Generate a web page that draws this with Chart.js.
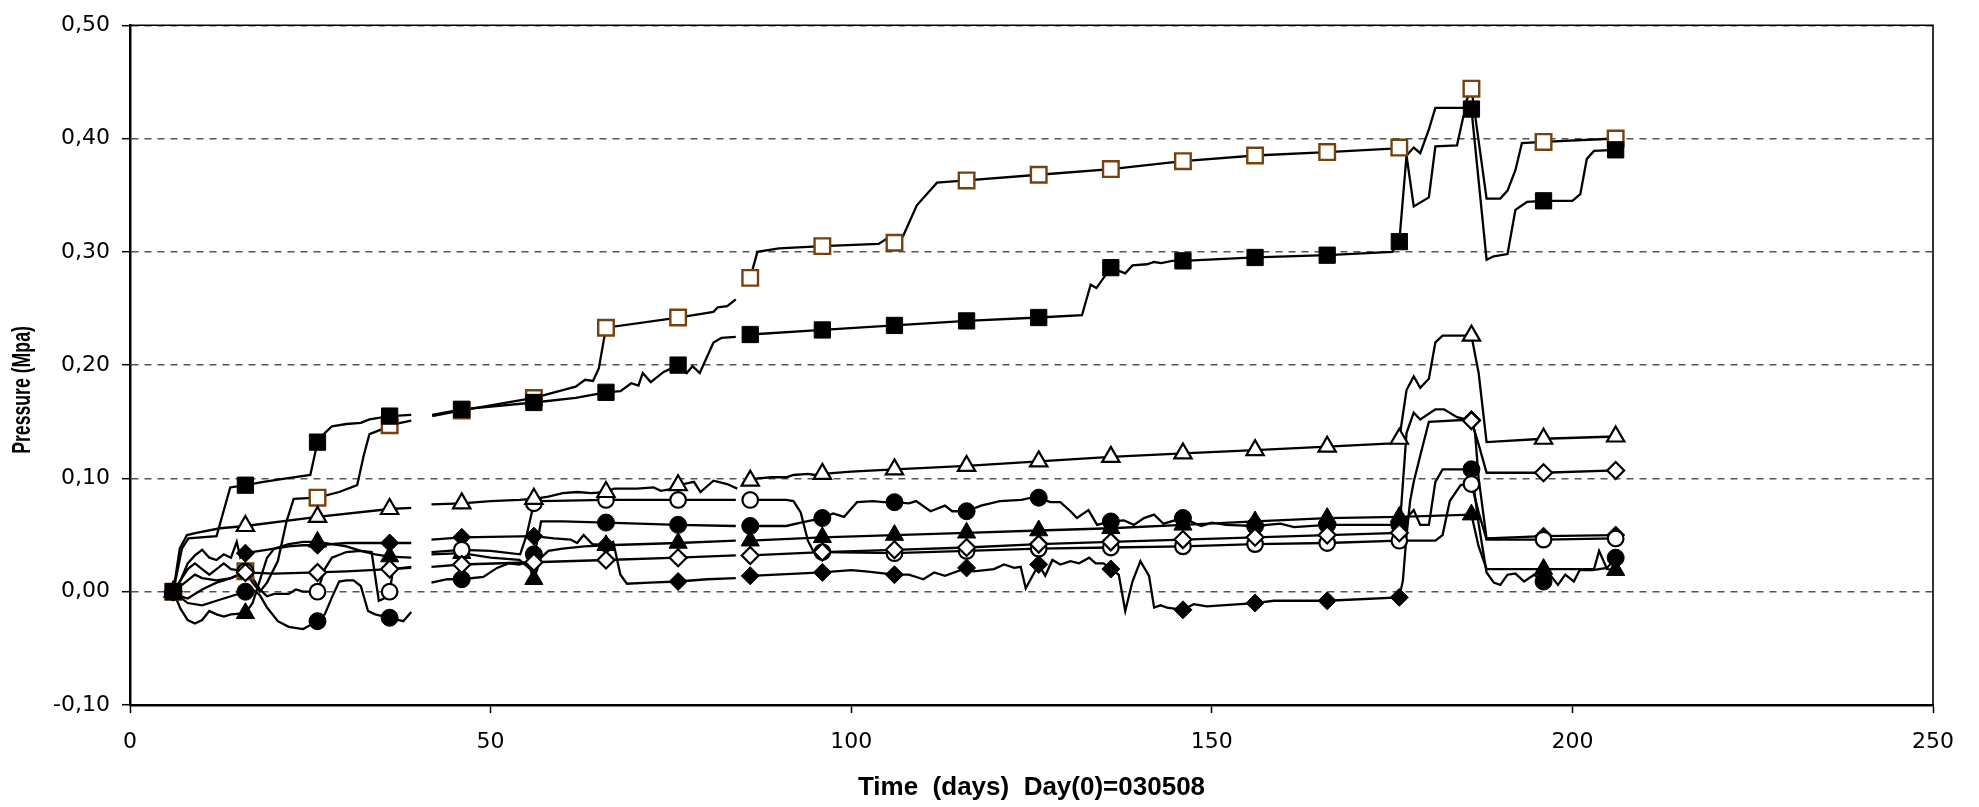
<!DOCTYPE html>
<html>
<head>
<meta charset="utf-8">
<title>Pressure</title>
<script src="https://cdn.jsdelivr.net/npm/chart.js@4.4.1/dist/chart.umd.min.js"></script>
<style>
  html, body { margin: 0; padding: 0; background: #fff; }
  canvas { display: block; }
</style>
</head>
<body>
<canvas id="graphique-pression" width="1979" height="807"></canvas>
<script>
// jours ou sont places les marqueurs (un tous les 10 jours)
const markDays = [6, 16, 26, 36, 46, 56, 66, 76, 86, 96, 106, 116, 126, 136, 146, 156, 166, 176, 186, 196, 206];

// carre vide (marron)
const sqOpenDays = [6, 7, 8, 10, 12, 14, 16, 17, 18, 19, 20.5, 21.7, 22.7, 26, 29, 31.5, 32.4, 33.2, 34.8, 36, 39, 40.5,
  41.9, 46, 56, 60, 61.8, 63.1, 64.2, 65, 66, 76, 79, 80.9, 81.5, 82.8, 84, 85,
  86, 87, 90, 96, 103.8, 104.8, 106, 107.2, 109.1, 111.9, 116, 126, 136, 146, 156, 166, 175, 176,
  177, 178, 178.9, 180.1, 181, 184.9, 186, 188.1, 190, 191, 192.1, 193, 196, 206];
const sqOpenVals = [0, -0.004, -0.006, 0.002, 0.008, 0.012, 0.018, 0.008, 0, 0.008, 0.027, 0.062, 0.082, 0.083, 0.088, 0.094, 0.12, 0.139, 0.143, 0.147, 0.151, null,
  0.155, 0.160, 0.171, 0.178, 0.181, 0.187, 0.186, 0.197, 0.233, 0.242, 0.245, 0.247, 0.251, 0.252, 0.258, null,
  0.277, 0.300, 0.303, 0.305, 0.307, 0.311, 0.308, 0.314, 0.341, 0.361, 0.363, 0.368, 0.373, 0.380, 0.385, 0.388, 0.391, 0.392,
  0.385, 0.392, 0.387, 0.408, 0.427, 0.427, 0.444, 0.347, 0.347, 0.354, 0.372, 0.396, 0.397, 0.400];
const sqOpenMarks = [0, 0.018, 0.083, 0.147, 0.160, 0.171, 0.233, 0.242, 0.277, 0.305, 0.308, 0.363, 0.368, 0.373, 0.380, 0.385, 0.388, 0.392, 0.444, 0.397, 0.400];

// carre plein
const sqFullDays = [6, 7.2, 8.1, 12, 13.9, 16, 18.5, 21.7, 25, 26, 27, 28, 30, 32, 33.2, 36, 39, 40.5,
  41.9, 46, 56, 61.8, 66, 68, 69.5, 70.5, 71.1, 72.2, 74, 76, 77.2, 78, 79, 80.9, 82, 84, 85,
  86, 96, 106, 116, 126, 132, 133.2, 134, 136, 138, 139, 141, 142, 143, 144.5, 146, 156, 166, 175, 176,
  177, 178, 180.1, 181, 184, 184.9, 186, 188.1, 189.1, 191, 192.1, 193.7, 196, 200, 201.1, 202, 203, 206];
const sqFullVals = [0, 0.038, 0.047, 0.049, 0.092, 0.094, 0.097, 0.100, 0.103, 0.132, 0.140, 0.146, 0.148, 0.149, 0.152, 0.155, 0.156, null,
  0.156, 0.161, 0.167, 0.171, 0.176, 0.177, 0.184, 0.182, 0.193, 0.185, 0.194, 0.200, 0.193, 0.199, 0.193, 0.220, 0.224, 0.225, null,
  0.227, 0.231, 0.235, 0.239, 0.242, 0.244, 0.271, 0.268, 0.286, 0.281, 0.288, 0.289, 0.291, 0.290, 0.292, 0.292, 0.295, 0.297, 0.300, 0.309,
  0.385, 0.340, 0.348, 0.393, 0.394, 0.420, 0.426, 0.293, 0.296, 0.298, 0.337, 0.344, 0.345, 0.345, 0.351, 0.382, 0.389, 0.390];
const sqFullMarks = [0, 0.094, 0.132, 0.155, 0.161, 0.167, 0.176, 0.200, 0.227, 0.231, 0.235, 0.239, 0.242, 0.286, 0.292, 0.295, 0.297, 0.309, 0.426, 0.345, 0.390];

// triangle vide
const triOpenDays = [6, 6.9, 7.9, 9.2, 12.5, 16, 26, 36, 39, 40.5,
  41.8, 46, 50, 54, 56, 58, 60, 62, 64, 66, 67.1, 70.3, 72.6, 73.6, 75.4, 76, 78.2, 79.1, 80.9, 82.8, 84.2, 85,
  86, 87, 89, 91, 92, 94, 95, 96, 100, 106, 116, 126, 136, 146, 156, 166, 175, 176,
  177, 178, 178.9, 180.1, 181, 182, 185.5, 186, 187, 188.1, 196, 206];
const triOpenVals = [0, 0.038, 0.050, 0.052, 0.056, 0.058, 0.066, 0.073, 0.074, null,
  0.077, 0.078, 0.080, 0.081, 0.082, 0.084, 0.087, 0.088, 0.087, 0.088, 0.091, 0.091, 0.092, 0.089, 0.091, 0.094, 0.097, 0.088, 0.098, 0.095, 0.091, null,
  0.098, 0.100, 0.101, 0.101, 0.103, 0.104, 0.103, 0.104, 0.106, 0.108, 0.111, 0.115, 0.119, 0.122, 0.125, 0.128, 0.131, 0.135,
  0.178, 0.190, 0.180, 0.188, 0.220, 0.226, 0.226, 0.226, 0.193, 0.132, 0.135, 0.137];
const triOpenMarks = [0, 0.058, 0.066, 0.073, 0.078, 0.082, 0.088, 0.094, 0.098, 0.104, 0.108, 0.111, 0.115, 0.119, 0.122, 0.125, 0.128, 0.135, 0.226, 0.135, 0.137];

// losange vide
const diaOpenDays = [6, 7, 8, 9, 10, 12, 14, 16, 20, 26, 30, 36, 39, 40.5,
  41.8, 46, 56, 66, 76, 84, 85,
  86, 96, 106, 116, 126, 136, 146, 156, 166, 176,
  177, 178, 178.9, 181, 182.2, 184, 186, 187, 188.1, 196, 206];
const diaOpenVals = [0, 0.005, 0.010, 0.015, 0.012, 0.010, 0.012, 0.017, 0.016, 0.017, 0.018, 0.020, 0.021, null,
  0.022, 0.024, 0.026, 0.028, 0.030, 0.032, null,
  0.032, 0.035, 0.037, 0.039, 0.042, 0.044, 0.046, 0.048, 0.050, 0.052,
  0.140, 0.158, 0.152, 0.161, 0.161, 0.154, 0.151, 0.130, 0.105, 0.105, 0.107];
const diaOpenMarks = [0, 0.017, 0.017, 0.020, 0.024, 0.026, 0.028, 0.030, 0.032, 0.035, 0.037, 0.039, 0.042, 0.044, 0.046, 0.048, 0.050, 0.052, 0.151, 0.105, 0.107];

// losange plein
const diaFullDays = [6, 7, 8, 9, 10, 11, 12, 13, 14, 14.8, 15.3, 16, 18, 20, 22, 24, 26, 30, 36, 39, 40.5,
  41.8, 46, 56, 58.8, 61.1, 62, 62.9, 64.1, 66, 67, 68, 68.9, 72, 76, 80, 84, 85,
  86, 96, 100, 102, 106, 108, 110, 111.5, 113, 116, 117, 119.8, 121.2, 122.6, 123.5, 124.2, 126, 126.9, 127.9, 129,
  130.4, 131.6, 133, 133.9, 135, 136, 137.1, 138, 139, 140.1, 141.3, 142, 142.9, 143.8, 146, 147.5, 149.3, 156, 158.6, 166, 176,
  176.5, 177, 177.5, 178, 178.9, 180.1, 186, 186.5, 187, 188.1, 196, 206];
const diaFullVals = [0, 0.010, 0.025, 0.032, 0.037, 0.030, 0.028, 0.033, 0.030, 0.044, 0.030, 0.034, 0.036, 0.038, 0.040, 0.041, 0.041, 0.043, 0.043, 0.043, null,
  0.046, 0.048, 0.049, 0.047, 0.046, 0.043, 0.050, 0.042, 0.041, 0.044, 0.015, 0.007, 0.008, 0.009, 0.011, 0.012, null,
  0.014, 0.017, 0.019, 0.018, 0.015, 0.015, 0.011, 0.017, 0.014, 0.021, 0.018, 0.020, 0.024, 0.021, 0.022, 0.003, 0.024, 0.014, 0.028, 0.024,
  0.027, 0.025, 0.030, 0.025, 0.025, 0.020, 0.015, -0.017, 0.009, 0.027, 0.014, -0.014, -0.012, -0.014, -0.016, -0.011, -0.013, -0.010, -0.008, -0.008, -0.005,
  0.010, 0.050, 0.080, 0.097, 0.120, 0.150, 0.152, 0.140, 0.100, 0.047, 0.049, 0.050];
const diaFullMarks = [0, 0.034, 0.041, 0.043, 0.048, 0.049, 0.041, 0.009, 0.014, 0.017, 0.015, 0.021, 0.024, 0.020, -0.016, -0.010, -0.008, -0.005, 0.152, 0.049, 0.050];

// rond plein
const cirFullDays = [6, 7, 8, 10, 12, 14, 16, 17, 18, 19, 20.5, 22, 24, 26, 27, 28, 29, 30, 31, 32, 33, 34, 36, 37.9, 39, 40.5,
  41.8, 44, 46, 49, 50.9, 52.5, 54, 55, 56, 56.5, 57, 60, 66, 76, 84, 85,
  86, 91, 93, 96, 97.5, 99, 100.8, 103, 104.5, 106, 108, 109, 111, 113, 114, 116, 118, 120.6, 123.6, 125, 126, 127.6, 129,
  130.4, 131.3, 132.9, 134.1, 136, 137.8, 139.2, 140.6, 142, 143.3, 146, 148.5, 150, 152, 156, 159.5, 161.4, 166, 176,
  177, 178, 178.9, 180.1, 181, 182, 186, 187, 188.1, 189.1, 190, 191, 192.1, 193.3, 194.7, 196, 196.9, 198, 199, 200.2, 201, 202.8, 204.8, 206];
const cirFullVals = [0, -0.005, -0.010, -0.012, -0.008, -0.004, 0, 0.002, -0.003, -0.014, -0.026, -0.031, -0.033, -0.026, -0.020, -0.005, 0.009, 0.010, 0.010, 0.005, -0.017, -0.020, -0.023, -0.026, -0.018, null,
  0.008, 0.011, 0.011, 0.013, 0.021, 0.025, 0.024, 0.026, 0.033, 0.045, 0.062, 0.062, 0.061, 0.059, 0.058, null,
  0.058, 0.058, 0.061, 0.065, 0.069, 0.066, 0.079, 0.080, 0.079, 0.079, 0.078, 0.080, 0.071, 0.076, 0.071, 0.071, 0.076, 0.080, 0.081, 0.083, 0.083, 0.079, 0.079,
  0.071, 0.065, 0.072, 0.059, 0.062, 0.063, 0.059, 0.065, 0.068, 0.060, 0.065, 0.058, 0.061, 0.059, 0.058, 0.060, 0.057, 0.059, 0.059,
  0.065, 0.072, 0.059, 0.059, 0.097, 0.108, 0.108, 0.060, 0.017, 0.008, 0.006, 0.015, 0.016, 0.009, 0.015, 0.009, 0.015, 0.006, 0.015, 0.009, 0.019, 0.019, 0.021, 0.030];
const cirFullMarks = [0, 0, -0.026, -0.023, 0.011, 0.033, 0.061, 0.059, 0.058, 0.065, 0.079, 0.071, 0.083, 0.062, 0.065, 0.058, 0.059, 0.059, 0.108, 0.009, 0.030];

// rond vide
const cirOpenDays = [6, 7, 8, 9, 10, 11, 12, 13, 14, 16, 17, 18, 19, 20, 22, 23, 24, 26, 27, 28, 30, 32, 33.5, 34.5, 35.2, 36, 36.5, 39, 40.5,
  41.8, 46, 50, 54.1, 55, 56, 57, 66, 76, 84, 85,
  86, 91, 92, 93, 94, 94.8, 96, 106, 116, 126, 136, 146, 156, 166, 176,
  181, 182, 183, 184.5, 186, 187, 188.1, 196, 206];
const cirOpenVals = [0, 0.010, 0.020, 0.025, 0.020, 0.015, 0.020, 0.025, 0.020, 0.018, 0.012, 0.002, -0.004, -0.002, -0.002, 0.002, 0, 0, 0.020, 0.030, 0.035, 0.036, 0.035, -0.008, -0.006, 0, 0.020, 0.022, null,
  0.035, 0.037, 0.036, 0.033, 0.050, 0.078, 0.080, 0.081, 0.081, 0.081, null,
  0.081, 0.081, 0.080, 0.070, 0.045, 0.035, 0.035, 0.034, 0.036, 0.038, 0.039, 0.040, 0.042, 0.043, 0.045,
  0.045, 0.050, 0.080, 0.094, 0.095, 0.070, 0.046, 0.046, 0.047];
const cirOpenMarks = [0, 0.018, 0, 0, 0.037, 0.078, 0.081, 0.081, 0.081, 0.035, 0.034, 0.036, 0.038, 0.039, 0.040, 0.042, 0.043, 0.045, 0.095, 0.046, 0.047];

// triangle plein
const triFullDays = [6, 7, 8, 9, 10, 11, 12, 13, 14, 16, 17, 18, 19, 20, 22, 24, 26, 28, 30, 32, 34, 36, 39, 40.5,
  41.8, 46, 50, 54, 55.5, 56, 57, 58, 60, 63, 66, 76, 84, 85,
  86, 96, 106, 116, 126, 136, 146, 156, 166, 176, 186, 187, 188.1, 196, 203, 203.7, 204.8, 206];
const triFullVals = [0, -0.015, -0.025, -0.028, -0.025, -0.017, -0.020, -0.022, -0.020, -0.019, -0.010, 0.010, 0.030, 0.038, 0.042, 0.044, 0.044, 0.042, 0.040, 0.036, 0.033, 0.031, 0.030, null,
  0.033, 0.034, 0.030, 0.028, 0.020, 0.011, 0.030, 0.036, 0.038, 0.040, 0.041, 0.043, 0.045, null,
  0.045, 0.048, 0.050, 0.052, 0.054, 0.056, 0.059, 0.062, 0.065, 0.066, 0.068, 0.040, 0.020, 0.020, 0.020, 0.036, 0.020, 0.019];
const triFullMarks = [0, -0.019, 0.044, 0.031, 0.034, 0.011, 0.041, 0.043, 0.045, 0.048, 0.050, 0.052, 0.054, 0.056, 0.059, 0.062, 0.065, 0.066, 0.068, 0.020, 0.019];

// graduations des axes
const xTicks = [0, 50, 100, 150, 200, 250];
const yTicks = [-0.10, 0.00, 0.10, 0.20, 0.30, 0.40, 0.50];

const brun = "#74420f";

function points(days, vals) {
    return days.map((d, i) => ({ x: d, y: vals[i] }));
}

function courbe(days, vals) {
    return {
        data: points(days, vals),
        borderColor: "#000",
        borderWidth: 2.3,
        pointRadius: 0,
        tension: 0,
        spanGaps: false,
        order: 2
    };
}

function marqueurs(vals, style, rayon, fond, bord, epaisseur) {
    return {
        data: points(markDays, vals),
        showLine: false,
        pointStyle: style,
        pointRadius: rayon,
        pointBackgroundColor: fond,
        pointBorderColor: bord,
        pointBorderWidth: epaisseur,
        order: 1
    };
}

const datasets = [
    courbe(sqOpenDays, sqOpenVals),
    courbe(sqFullDays, sqFullVals),
    courbe(triOpenDays, triOpenVals),
    courbe(diaOpenDays, diaOpenVals),
    courbe(diaFullDays, diaFullVals),
    courbe(cirFullDays, cirFullVals),
    courbe(cirOpenDays, cirOpenVals),
    courbe(triFullDays, triFullVals),
    marqueurs(sqFullMarks, "rect", 11.5, "#000", "#000", 1),
    marqueurs(triOpenMarks, "triangle", 10, "#fff", "#000", 2.2),
    marqueurs(diaOpenMarks, "rectRot", 8.5, "#fff", "#000", 2.2),
    marqueurs(cirOpenMarks, "circle", 7.8, "#fff", "#000", 2.2),
    marqueurs(diaFullMarks, "rectRot", 9, "#000", "#000", 1),
    marqueurs(cirFullMarks, "circle", 8.5, "#000", "#000", 1),
    marqueurs(triFullMarks, "triangle", 10.5, "#000", "#000", 1),
    marqueurs(sqOpenMarks, "rect", 11, "#fff", brun, 2.4)
];

// cadre haut et droit + titre vertical
const cadre = {
    id: "cadre",
    afterDraw(chart) {
        const { ctx, chartArea: a } = chart;
        ctx.save();
        ctx.strokeStyle = "#000";
        ctx.lineWidth = 1.6;
        ctx.beginPath();
        ctx.moveTo(a.left, a.top);
        ctx.lineTo(a.right, a.top);
        ctx.lineTo(a.right, a.bottom);
        ctx.stroke();
        ctx.restore();

        // titre de l'axe vertical, resserre dans le sens du texte comme sur l'original
        ctx.save();
        ctx.font = "bold 26px 'Liberation Sans', Arial, sans-serif";
        ctx.fillStyle = "#000";
        ctx.translate(23, 390);
        ctx.rotate(-Math.PI / 2);
        ctx.scale(0.68, 1);
        ctx.textAlign = "center";
        ctx.textBaseline = "middle";
        ctx.fillText("Pressure (Mpa)", 0, 0);
        ctx.restore();
    }
};

const tickFont = { family: "'DejaVu Sans', sans-serif", size: 22 };

new Chart(document.querySelector("#graphique-pression"), {
    type: "line",
    data: { datasets: datasets },
    options: {
        responsive: false,
        animation: false,
        devicePixelRatio: 1,
        layout: { padding: { top: 19, right: 46, bottom: 0, left: 0 } },
        plugins: { legend: { display: false }, tooltip: { enabled: false } },
        scales: {
            x: {
                type: "linear",
                min: 0,
                max: 250,
                afterBuildTicks: (s) => { s.ticks = xTicks.map(v => ({ value: v })); },
                afterFit: (s) => { s.height = 102; },
                ticks: { font: tickFont, color: "#000", padding: 16, maxRotation: 0 },
                grid: { drawOnChartArea: false, drawTicks: true, tickLength: 8, tickColor: "#000", tickWidth: 1.5 },
                border: { display: true, color: "#000", width: 2.5 },
                title: {
                    display: true,
                    text: "Time  (days)  Day(0)=030508",
                    color: "#000",
                    font: { family: "'Liberation Sans', Arial, sans-serif", size: 26, weight: "bold" },
                    padding: { top: 0, bottom: 4 }
                }
            },
            y: {
                min: -0.1,
                max: 0.5,
                afterBuildTicks: (s) => { s.ticks = yTicks.map(v => ({ value: v })); },
                afterFit: (s) => { s.width = 130; },
                ticks: {
                    font: tickFont,
                    color: "#000",
                    padding: 12,
                    callback: (v) => Number(v).toFixed(2).replace(".", ",")
                },
                grid: { color: "#555", lineWidth: 1.4, tickLength: 8, tickColor: "#000", tickWidth: 1.5 },
                border: { display: true, color: "#000", width: 2.5, dash: [7, 6] }
            }
        }
    },
    plugins: [cadre]
});
</script>
</body>
</html>
